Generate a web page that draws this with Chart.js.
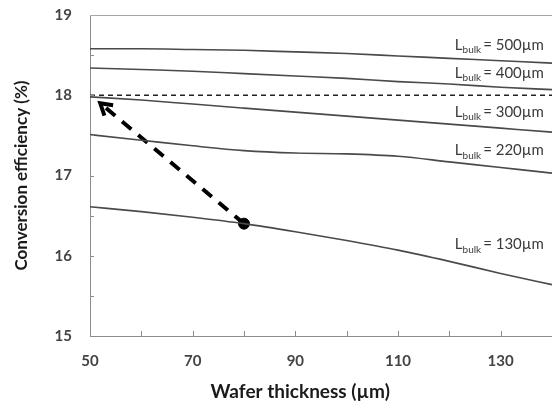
<!DOCTYPE html>
<html>
<head>
<meta charset="utf-8">
<script src="https://cdn.jsdelivr.net/npm/chart.js@4.4.1/dist/chart.umd.min.js"></script>
<style>
  html, body { margin: 0; padding: 0; background: #fff; }
  canvas { display: block; }
</style>
</head>
<body>
<canvas id="myChart" width="552" height="403"></canvas>
<script>
// Data
const thickness = [50, 60, 70, 80, 90, 100, 110, 120, 130, 140];
const eff500 = [18.58, 18.58, 18.57, 18.56, 18.54, 18.52, 18.49, 18.46, 18.43, 18.40];
const eff400 = [18.34, 18.32, 18.30, 18.27, 18.24, 18.21, 18.17, 18.14, 18.10, 18.07];
const eff300 = [17.98, 17.94, 17.89, 17.84, 17.79, 17.74, 17.69, 17.64, 17.59, 17.54];
const eff220 = [17.51, 17.44, 17.37, 17.31, 17.28, 17.27, 17.24, 17.17, 17.10, 17.03];
const eff130 = [16.61, 16.55, 16.48, 16.40, 16.30, 16.19, 16.07, 15.93, 15.78, 15.64];
const targetEff = 18;
const startPoint = [80, 16.40];
const arrowTip = [52, 17.90];

const lbulkNames = ["500", "400", "300", "220", "130"];
const lbulkLabelY = [18.63, 18.28, 17.79, 17.31, 16.14];
const lbulkLabelX = 139;

const xTicks = [50, 70, 90, 110, 130];
const yTicks = [15, 16, 17, 18, 19];

const ctx = document.getElementById("myChart").getContext("2d");

const pts = (ys) => thickness.map((x, i) => ({ x: x, y: ys[i] }));

const curveStyle = {
  borderColor: "#4a4a4a",
  borderWidth: 1.6,
  pointRadius: 0,
  cubicInterpolationMode: "monotone",
  fill: false,
};

// minor ticks inside the axes, frame on top
const axisDecor = {
  id: "axisDecor",
  afterDraw(chart) {
    const { ctx, chartArea: a, scales: { x, y } } = chart;
    ctx.save();
    ctx.strokeStyle = "#8c8c8c";
    ctx.lineWidth = 1;
    for (let v = 50; v <= 140; v += 10) {
      const px = Math.round(x.getPixelForValue(v)) + 0.5;
      ctx.beginPath();
      ctx.moveTo(px, a.bottom);
      ctx.lineTo(px, a.bottom - 5);
      ctx.stroke();
    }
    for (let v = 15; v <= 19; v += 0.5) {
      const py = Math.round(y.getPixelForValue(v)) + 0.5;
      ctx.beginPath();
      ctx.moveTo(a.left, py);
      ctx.lineTo(a.left + 4, py);
      ctx.stroke();
    }
    ctx.strokeStyle = "#a6a6a6";
    ctx.beginPath();
    ctx.moveTo(a.left, a.top + 0.5);
    ctx.lineTo(a.right, a.top + 0.5);
    ctx.stroke();
    ctx.restore();
  },
};

// arrow head and L_bulk labels
const annotations = {
  id: "annotations",
  afterDatasetsDraw(chart) {
    const { ctx, scales: { x, y } } = chart;
    ctx.save();
    // arrow head
    const tx = x.getPixelForValue(arrowTip[0]);
    const ty = y.getPixelForValue(arrowTip[1]);
    const sx = x.getPixelForValue(startPoint[0]);
    const sy = y.getPixelForValue(startPoint[1]);
    const ang = Math.atan2(sy - ty, sx - tx);
    const len = 13;
    ctx.strokeStyle = "#000";
    ctx.lineWidth = 4;
    ctx.lineCap = "butt";
    ctx.beginPath();
    ctx.moveTo(tx + len * Math.cos(ang - 0.55), ty + len * Math.sin(ang - 0.55));
    ctx.lineTo(tx, ty);
    ctx.lineTo(tx + len * Math.cos(ang + 0.55), ty + len * Math.sin(ang + 0.55));
    ctx.stroke();

    // labels
    ctx.fillStyle = "#3a3a3a";
    ctx.textBaseline = "middle";
    const big = "15px Lato, 'Open Sans', sans-serif";
    const small = "10px Lato, 'Open Sans', sans-serif";
    lbulkNames.forEach((n, i) => {
      const right = x.getPixelForValue(lbulkLabelX) - 3;
      const cy = y.getPixelForValue(lbulkLabelY[i]);
      const tail = "= " + n + "\u00b5m";
      ctx.font = big;
      const wL = ctx.measureText("L").width;
      const wT = ctx.measureText(tail).width;
      ctx.font = small;
      const wS = ctx.measureText("bulk").width;
      let px = right - (wL + wS + 2 + wT);
      ctx.textAlign = "left";
      ctx.font = big;
      ctx.fillText("L", px, cy);
      px += wL;
      ctx.font = small;
      ctx.fillText("bulk", px, cy + 5);
      px += wS + 2;
      ctx.font = big;
      ctx.fillText(tail, px, cy);
    });
    ctx.restore();
  },
};

const data = {
  datasets: [
    { label: "500", data: pts(eff500), ...curveStyle },
    { label: "400", data: pts(eff400), ...curveStyle },
    { label: "300", data: pts(eff300), ...curveStyle },
    { label: "220", data: pts(eff220), ...curveStyle },
    { label: "130", data: pts(eff130), ...curveStyle },
    {
      label: "target",
      data: [{ x: 50, y: targetEff }, { x: 140, y: targetEff }],
      borderColor: "#222",
      borderWidth: 1.6,
      borderDash: [5, 4],
      pointRadius: 0,
    },
    {
      label: "arrow",
      data: [{ x: startPoint[0], y: startPoint[1] }, { x: arrowTip[0], y: arrowTip[1] }],
      borderColor: "#000",
      borderWidth: 4,
      borderDash: [12, 9],
      pointRadius: 0,
    },
    {
      label: "start",
      data: [{ x: startPoint[0], y: startPoint[1] }],
      showLine: false,
      pointRadius: 5.5,
      pointBackgroundColor: "#000",
      pointBorderColor: "#000",
    },
  ],
};

const tickFont = { family: "Lato, 'Open Sans', sans-serif", size: 15, weight: "bold" };
const titleFont = { family: "Lato, 'Open Sans', sans-serif", size: 17, weight: "bold" };

const config = {
  type: "line",
  data: data,
  options: {
    responsive: false,
    animation: false,
    layout: { autoPadding: false, padding: { top: 0, right: 0, left: 0, bottom: 0 } },
    plugins: {
      legend: { display: false },
      tooltip: { enabled: false },
    },
    scales: {
      x: {
        type: "linear",
        min: 50,
        max: 140,
        afterFit: (s) => { s.height = 67; s.paddingRight = 0; },
        afterBuildTicks: (s) => { s.ticks = xTicks.map((v) => ({ value: v })); },
        grid: { display: false, drawTicks: false },
        border: { display: true, color: "#8c8c8c", width: 1 },
        ticks: { color: "#444", font: tickFont, padding: 16, maxRotation: 0 },
        title: {
          display: true,
          // trailing spaces nudge the centred title to the left, as in the original
          text: "Wafer thickness (\u00b5m)" + "\u00a0".repeat(9),
          color: "#1a1a1a",
          font: { ...titleFont, size: 19 },
          padding: { top: 4, bottom: 0 },
        },
      },
      y: {
        min: 15,
        max: 19,
        afterFit: (s) => { s.width = 90; s.paddingTop = 15; },
        afterBuildTicks: (s) => { s.ticks = yTicks.map((v) => ({ value: v })); },
        grid: { display: false, drawTicks: false },
        border: { display: true, color: "#8c8c8c", width: 1 },
        ticks: { color: "#444", font: tickFont, padding: 18 },
        title: {
          display: true,
          text: "Conversion efficiency (%)",
          color: "#1a1a1a",
          font: titleFont,
          padding: { top: 11, bottom: 0 },
        },
      },
    },
  },
  plugins: [axisDecor, annotations],
};

const myChart = new Chart(ctx, config);
</script>
</body>
</html>
